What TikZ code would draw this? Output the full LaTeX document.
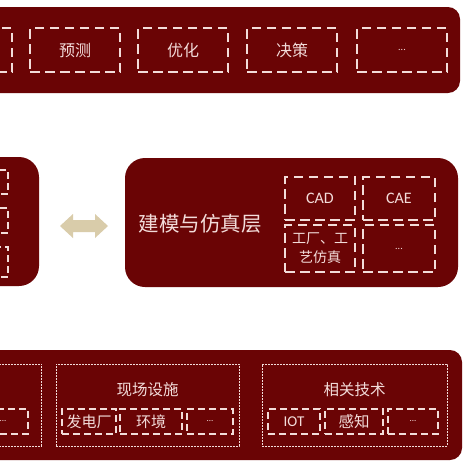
\documentclass[tikz,border=0pt]{standalone}
\usepackage{fontspec}
\setmainfont{Carlito}
\newfontfamily\cjk{Noto Sans CJK SC}
\definecolor{layerred}{HTML}{6A0405}
\definecolor{paletxt}{HTML}{F3DCDA}
\definecolor{arrowbeige}{HTML}{D9CCAA}
\begin{document}
\begin{tikzpicture}[x=1pt,y=-1pt,
  layer/.style={fill=layerred, draw=none, rounded corners=#1, inner sep=0pt},
  layer/.default=12pt,
  dbox/.style={draw=paletxt, line width=1.6pt, dash pattern=on 9.5pt off 5.5pt, inner sep=0pt, text=paletxt},
  sbox/.style={draw=paletxt, line width=1.3pt, dash pattern=on 7pt off 4pt, inner sep=0pt, text=paletxt},
  dotbox/.style={draw=paletxt, line width=0.6pt, dash pattern=on 1.6pt off 1.4pt, inner sep=0pt},
  lbl/.style={text=paletxt, inner sep=0pt}]
\useasboundingbox (0,0) rectangle (469,469);
\clip (0,0) rectangle (469,469);
\fill[white] (0,0) rectangle (469,469);

% top layer
\node[layer, minimum width=500pt, minimum height=86pt] (top) at (210,50) {};
\node[dbox, minimum width=90pt, minimum height=44pt] (t0) at (-33,50) {};
\node[dbox, minimum width=90pt, minimum height=44pt, font=\cjk\fontsize{16}{18}\selectfont] (t1) at (75,50) {预测};
\node[dbox, minimum width=90pt, minimum height=44pt, font=\cjk\fontsize{16}{18}\selectfont] (t2) at (183,50) {优化};
\node[dbox, minimum width=90pt, minimum height=44pt, font=\cjk\fontsize{16}{18}\selectfont] (t3) at (292,50) {决策};
\node[dbox, minimum width=90pt, minimum height=44pt, font=\fontsize{10}{12}\selectfont] (t4) at (402,50) {...};

% middle left layer
\node[layer=20pt, minimum width=140pt, minimum height=129pt] (ml) at (-31,221.5) {};
\node[sbox, minimum width=40pt, minimum height=24pt] (ml1) at (-12,182) {};
\node[sbox, minimum width=40pt, minimum height=25pt] (ml2) at (-12,220.5) {};
\node[sbox, minimum width=40pt, minimum height=30pt] (ml3) at (-12,262) {};

% double arrow
\coordinate (al) at (60,226);
\coordinate (ar) at (108,226);
\fill[arrowbeige] (al) -- ++(13,-12) -- ++(0,6) -- ++(22,0) -- ++(0,-6) -- (ar) -- ++(-13,12) -- ++(0,-6) -- ++(-22,0) -- ++(0,6) -- cycle;

% middle right layer
\node[layer=20pt, minimum width=333pt, minimum height=129pt] (mr) at (291.5,222.5) {};
\node[lbl, font=\cjk\fontsize{20.5}{24}\selectfont] (mrt) at (200,224) {建模与仿真层};
\node[dbox, minimum width=70pt, minimum height=43pt, font=\fontsize{16}{18}\selectfont] (cad) at (320,198.5) {CAD};
\node[dbox, minimum width=72pt, minimum height=43pt, font=\fontsize{16}{18}\selectfont] (cae) at (399,198.5) {CAE};
\node[dbox, minimum width=70pt, minimum height=47pt, font=\cjk\fontsize{14}{19}\selectfont, align=center] (fac) at (320,248.5) {工厂、工\\艺仿真};
\node[dbox, minimum width=72pt, minimum height=47pt, font=\fontsize{10}{12}\selectfont] (mdots) at (399,248.5) {...};

% bottom layer
\node[layer, minimum width=500pt, minimum height=110pt] (bot) at (212,405) {};
\node[dotbox, minimum width=183pt, minimum height=82pt] (b0) at (-50,405) {};
\node[dotbox, minimum width=183pt, minimum height=82pt] (b1) at (147.5,405) {};
\node[dotbox, minimum width=185pt, minimum height=82pt] (b2) at (354.5,405) {};
\node[lbl, font=\cjk\fontsize{15.5}{18}\selectfont] (b1t) at (147.5,390) {现场设施};
\node[lbl, font=\cjk\fontsize{15.5}{18}\selectfont] (b2t) at (354.5,390) {相关技术};
\node[sbox, minimum width=50pt, minimum height=25pt, font=\fontsize{9}{10}\selectfont] (b00) at (3,421.5) {...};
\node[sbox, minimum width=54pt, minimum height=25pt, font=\cjk\fontsize{15}{16}\selectfont] (b11) at (89,421.5) {发电厂};
\node[sbox, minimum width=62pt, minimum height=25pt, font=\cjk\fontsize{15}{16}\selectfont] (b12) at (151,421.5) {环境};
\node[sbox, minimum width=46pt, minimum height=25pt, font=\fontsize{9}{10}\selectfont] (b13) at (210,421.5) {...};
\node[sbox, minimum width=52pt, minimum height=25pt, font=\fontsize{15}{16}\selectfont] (b21) at (294,421.5) {IOT};
\node[sbox, minimum width=58pt, minimum height=25pt, font=\cjk\fontsize{15.5}{16}\selectfont] (b22) at (354,421.5) {感知};
\node[sbox, minimum width=50pt, minimum height=25pt, font=\fontsize{9}{10}\selectfont] (b23) at (413,421.5) {...};
\end{tikzpicture}
\end{document}
